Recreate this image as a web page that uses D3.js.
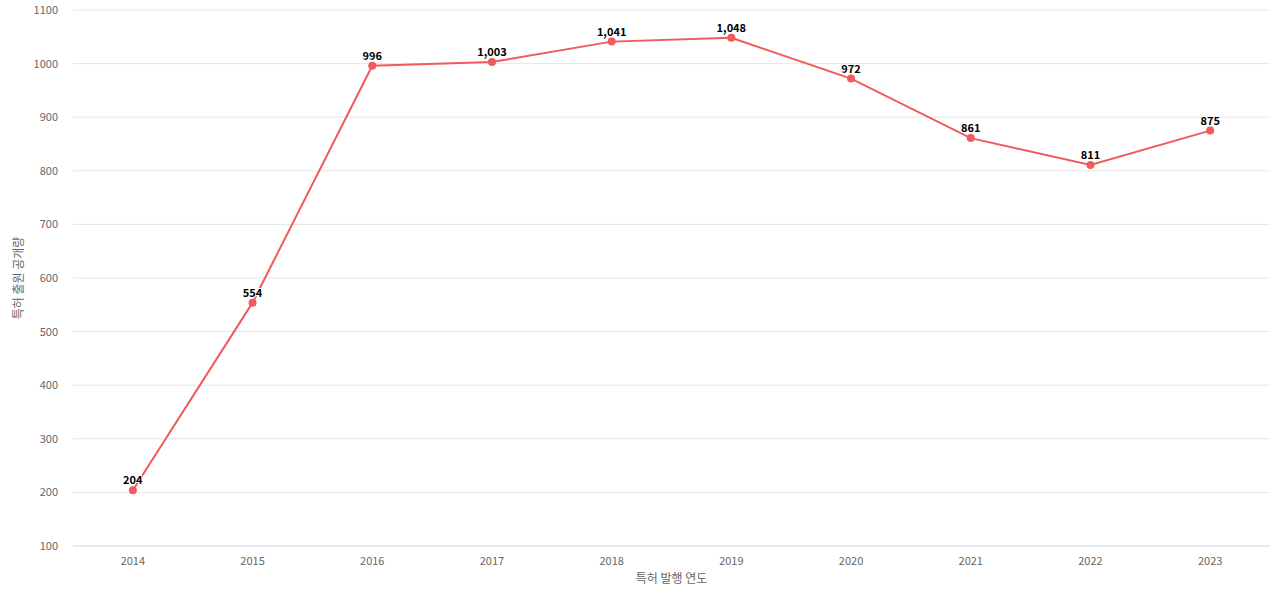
<!DOCTYPE html><html><head><meta charset="utf-8"><script src="https://cdn.jsdelivr.net/npm/d3@7"></script>
<style>body{margin:0;background:#fff}text{font-family:"Noto Sans CJK KR","Noto Sans",sans-serif}</style></head><body><svg id="c" width="1280" height="600"></svg><script>
const years=["2014","2015","2016","2017","2018","2019","2020","2021","2022","2023"];
const values=[204,554,996,1003,1041,1048,972,861,811,875];
const yTicks=[100,200,300,400,500,600,700,800,900,1000,1100];
const svg=d3.select("#c");
const L=73,R=1270,T=10,B=546;
const x=d3.scalePoint().domain(years).range([L,R]).padding(0.5);
const y=d3.scaleLinear().domain([100,1100]).range([B,T]);
const g=svg.append("g");
g.selectAll(".gl").data(yTicks).join("line").attr("x1",L).attr("x2",R).attr("y1",d=>y(d)).attr("y2",d=>y(d)).attr("stroke",d=>d===100?"#ccd6eb":"#e6e6e6").attr("stroke-width",1);
g.selectAll(".yt").data(yTicks).join("text").attr("x",58).attr("y",d=>y(d)+4).attr("text-anchor","end").attr("font-size",11).attr("fill","#666").text(d=>d);
g.selectAll(".xt").data(years).join("text").attr("x",d=>x(d)).attr("y",565).attr("text-anchor","middle").attr("font-size",11).attr("fill","#666").text(d=>d);
svg.append("text").attr("x",(L+R)/2).attr("y",583).attr("text-anchor","middle").attr("font-size",12).attr("fill","#666").text("특허 발행 연도");
svg.append("text").attr("transform",`translate(23,${(T+B)/2}) rotate(-90)`).attr("text-anchor","middle").attr("font-size",12).attr("fill","#666").text("특허 출원 공개량");
const line=d3.line().x((d,i)=>x(years[i])).y(d=>y(d));
svg.append("path").datum(values).attr("d",line).attr("fill","none").attr("stroke","#f05a5a").attr("stroke-width",2);
svg.selectAll(".pt").data(values).join("circle").attr("cx",(d,i)=>x(years[i])).attr("cy",d=>y(d)).attr("r",4).attr("fill","#f05a5a");
svg.selectAll(".lb").data(values).join("text").attr("x",(d,i)=>x(years[i])).attr("y",d=>y(d)-6).attr("text-anchor","middle").attr("font-size",11).attr("font-weight","bold").attr("fill","#000").attr("stroke","#fff").attr("stroke-width",2).attr("paint-order","stroke").text(d=>d3.format(",")(d));
</script></body></html>
